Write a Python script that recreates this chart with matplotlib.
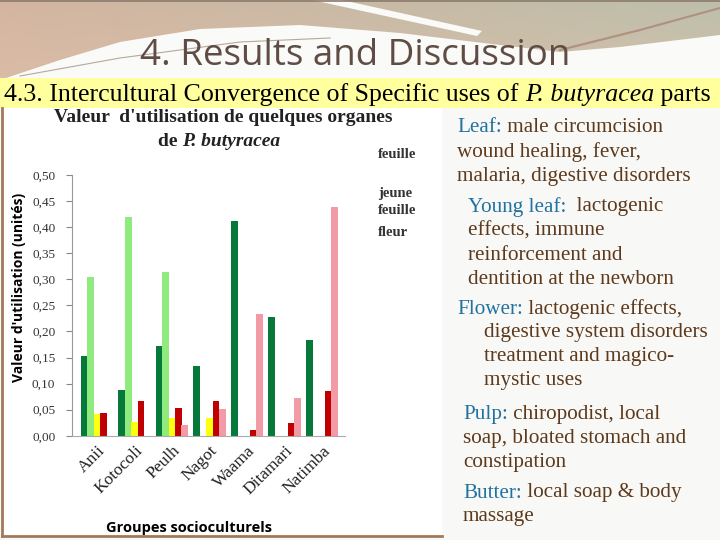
import matplotlib
matplotlib.use("Agg")
import matplotlib.pyplot as plt
import numpy as np
from matplotlib.patches import Polygon, Rectangle

# Data
groups = ["Anii", "Kotocoli", "Peulh", "Nagot", "Waama", "Ditamari", "Natimba"]
feuille = [0.152, 0.088, 0.172, 0.133, 0.412, 0.227, 0.184]
jeune_feuille = [0.305, 0.419, 0.314, 0.0, 0.0, 0.0, 0.0]
fleur = [0.042, 0.027, 0.035, 0.034, 0.0, 0.0, 0.0]
pulpe = [0.043, 0.067, 0.054, 0.067, 0.011, 0.024, 0.085]
beurre = [0.0, 0.0, 0.020, 0.052, 0.234, 0.073, 0.439]
y_ticks = [0.00, 0.05, 0.10, 0.15, 0.20, 0.25, 0.30, 0.35, 0.40, 0.45, 0.50]

series = [feuille, jeune_feuille, fleur, pulpe, beurre]
colors = ["#06793A", "#8FEB7D", "#FFFF10", "#C00000", "#F29AA6"]

BROWN = "#5E3A1C"
BLUE = "#2272A0"
SERIF = ["Liberation Serif", "DejaVu Serif"]
SANS = ["Open Sans", "DejaVu Sans"]

fig = plt.figure(figsize=(7.2, 5.4), dpi=100)
fig.patch.set_facecolor("#F8F8F6")

# background layer in pixel coordinates
bg = fig.add_axes([0, 0, 1, 1])
bg.set_xlim(0, 720)
bg.set_ylim(540, 0)
bg.axis("off")

# header gradient
grad = np.zeros((90, 720, 3))
c_left = np.array([0.83, 0.71, 0.63])
c_right = np.array([0.74, 0.75, 0.67])
c_low = np.array([0.88, 0.76, 0.67])
for i in range(90):
    t = i / 89.0
    row = np.outer(1 - np.linspace(0, 1, 720), c_left) + np.outer(np.linspace(0, 1, 720), c_right)
    grad[i] = row * (1 - 0.6 * t) + c_low * 0.6 * t
bg.imshow(grad, extent=(0, 720, 90, 0), aspect="auto", zorder=0)

# white swoosh below the header
cx = [0, 60, 120, 200, 300, 400, 500, 560, 620, 720]
cy = [80, 60, 42, 29, 25, 33, 45, 52, 47, 35]
bg.add_patch(Polygon(list(zip(cx, cy)) + [(720, 95), (0, 95)], closed=True,
                     fc="#FAFAF8", ec="none", zorder=1))
bg.add_patch(Polygon([(312, 0), (342, 0), (482, 31), (477, 36)], closed=True,
                     fc="#FAFAF8", ec="none", zorder=1))
bg.plot([20, 120, 240, 330], [76, 58, 42, 38], color="#B8A898", lw=0.8, zorder=2)
bg.plot([560, 640, 720], [50, 30, 8], color="#B09080", lw=1.5, zorder=2)
bg.plot([0, 720], [0.5, 0.5], color="#8A7A6A", lw=1.2, zorder=2)

bg.text(355, 56, "4. Results and Discussion", fontsize=26.5, family=SANS,
        color="#5F4D45", ha="center", va="center", zorder=3)

# yellow subtitle band
bg.add_patch(Rectangle((0, 78), 720, 30, fc="#FFFF9E", ec="none", zorder=2))

# chart picture area
bg.add_patch(Rectangle((2, 108), 440, 428, fc="white", ec="none", zorder=2))
bg.plot([2, 2], [108, 536], color="#A07A5A", lw=2, zorder=3)
bg.plot([2, 442], [536, 536], color="#A07A5A", lw=2, zorder=3)

renderer = fig.canvas.get_renderer()


def rich_line(x, y, parts, size, family=SERIF):
    # draw text pieces one after another on the same line
    for s, kw in parts:
        t = bg.text(x, y, s, fontsize=size, family=family, ha="left", va="center",
                    zorder=4, **kw)
        bb = t.get_window_extent(renderer)
        x = bg.transData.inverted().transform((bb.x1, bb.y0))[0]


rich_line(4, 95, [("4.3. Intercultural Convergence of Specific uses of ", {}),
                  ("P. butyracea", {"style": "italic"}),
                  (" parts", {})], 18.6)

# right-hand text
right_lines = [
    (457, 128, "Leaf:", " male circumcision"),
    (457, 152, "", "wound healing, fever,"),
    (457, 176, "", "malaria, digestive disorders"),
    (468, 207, "Young leaf:", "  lactogenic"),
    (468, 231, "", "effects, immune"),
    (468, 255, "", "reinforcement and"),
    (468, 279, "", "dentition at the newborn"),
    (457, 309, "Flower:", " lactogenic effects,"),
    (484, 333, "", "digestive system disorders"),
    (484, 357, "", "treatment and magico-"),
    (484, 381, "", "mystic uses"),
    (463, 415, "Pulp:", " chiropodist, local"),
    (463, 439, "", "soap, bloated stomach and"),
    (463, 463, "", "constipation"),
    (463, 493, "Butter:", " local soap & body"),
    (463, 517, "", "massage"),
]
for x, y, head, rest in right_lines:
    parts = []
    if head:
        parts.append((head, {"color": BLUE}))
    parts.append((rest, {"color": BROWN}))
    rich_line(x, y, parts, 15.2)

# chart title and legend labels
bg.text(223, 118, "Valeur  d'utilisation de quelques organes", fontsize=14,
        family=SERIF, weight="bold", color="#222222", ha="center", va="center", zorder=4)
rich_line(158, 141, [("de ", {"weight": "bold", "color": "#222222"}),
                     ("P. butyracea", {"weight": "bold", "style": "italic", "color": "#222222"})],
          14)
bg.text(378, 155, "feuille", fontsize=10.5, family=SERIF, weight="bold",
        color="#333333", ha="left", va="center", zorder=4)
bg.text(378, 194, "jeune", fontsize=10.5, family=SERIF, weight="bold",
        color="#333333", ha="left", va="center", zorder=4)
bg.text(378, 210, "feuille", fontsize=10.5, family=SERIF, weight="bold",
        color="#333333", ha="left", va="center", zorder=4)
bg.text(378, 233, "fleur", fontsize=10.5, family=SERIF, weight="bold",
        color="#333333", ha="left", va="center", zorder=4)

# bar chart
ax = fig.add_axes([0.10, 0.193, 0.379, 0.483], zorder=5)
ax.patch.set_alpha(0)
x = np.arange(len(groups))
width = 0.18
offsets = [-0.34, -0.17, 0.0, 0.17, 0.34]
for vals, off, col in zip(series, offsets, colors):
    ax.bar(x + off, vals, width=width, color=col, edgecolor="none")

ax.set_xlim(-0.67, 6.61)
ax.set_ylim(0, 0.5)
ax.set_yticks(y_ticks)
ax.set_yticklabels([f"{v:.2f}".replace(".", ",") for v in y_ticks],
                   family=SERIF, fontsize=9.5, color="#333333")
ax.set_xticks(x)
ax.set_xticklabels(groups, rotation=45, ha="right", rotation_mode="anchor",
                   family=SERIF, fontsize=12.5, color="#222222")
ax.tick_params(axis="x", length=0, pad=5)
ax.tick_params(axis="y", length=4, color="#888888", pad=8)
for side in ["top", "right"]:
    ax.spines[side].set_visible(False)
ax.spines["left"].set_color("#999999")
ax.spines["bottom"].set_color("#AAAAAA")
ax.set_ylabel("Valeur d'utilisation (unités)", family=SANS, fontsize=10,
              weight="bold")
ax.yaxis.set_label_coords(-0.168, 0.57)
ax.set_xlabel("Groupes socioculturels", family=SANS, fontsize=10.5, weight="bold")
ax.xaxis.set_label_coords(0.43, -0.325)

plt.savefig("out.png", dpi=100)
